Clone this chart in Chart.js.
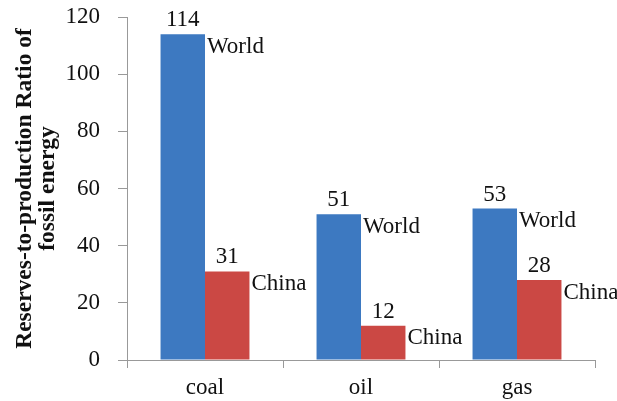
<!DOCTYPE html>
<html>
<head>
<meta charset="utf-8">
<script src="https://cdn.jsdelivr.net/npm/chart.js@4/dist/chart.umd.min.js"></script>
<style>
  html, body { margin: 0; padding: 0; background: #fff; }
  #wrap { width: 617px; height: 401px; }
</style>
</head>
<body>
<div id="wrap"><canvas id="rpChart"></canvas></div>
<script>
const fuels = ["coal", "oil", "gas"];
const worldRatio = [114, 51, 53];
const chinaRatio = [31, 12, 28];
const seriesNames = ["World", "China"];
const yTicks = [0, 20, 40, 60, 80, 100, 120];

const serif = "'Liberation Serif', 'Times New Roman', serif";

// value above each bar, series name to the right of its top
const barLabels = {
	id: "barLabels",
	afterDatasetsDraw(chart) {
		let ctx = chart.ctx;
		ctx.save();
		ctx.fillStyle = "#111";
		ctx.font = "23px " + serif;
		chart.data.datasets.forEach(function(ds, d) {
			let meta = chart.getDatasetMeta(d);
			meta.data.forEach(function(bar, i) {
				ctx.textAlign = "center";
				ctx.textBaseline = "alphabetic";
				ctx.fillText(String(ds.data[i]), bar.x, bar.y - 8);
				ctx.textAlign = "left";
				ctx.textBaseline = "top";
				ctx.fillText(seriesNames[d], bar.x + bar.width / 2 + 2, bar.y + 1);
			});
		});
		ctx.restore();
	}
};

new Chart(document.getElementById("rpChart"), {
	type: "bar",
	data: {
		labels: fuels,
		datasets: [
			{ label: "World", data: worldRatio, backgroundColor: "#3d79c1" },
			{ label: "China", data: chinaRatio, backgroundColor: "#cb4844" }
		]
	},
	options: {
		responsive: true,
		maintainAspectRatio: false,
		animation: false,
		categoryPercentage: 0.57,
		barPercentage: 1.0,
		layout: { padding: { top: 17, right: 22, left: 14, bottom: 0 } },
		plugins: {
			legend: { display: false },
			tooltip: { enabled: false }
		},
		scales: {
			x: {
				grid: { drawOnChartArea: false, color: "#999", tickLength: 8, offset: true },
				border: { color: "#999" },
				ticks: { color: "#111", font: { family: serif, size: 23 }, padding: 6 },
				afterFit: function(scale) { scale.height = 41; }
			},
			y: {
				min: 0,
				max: 120,
				afterBuildTicks: function(scale) { scale.ticks = yTicks.map(v => ({ value: v })); },
				grid: { drawOnChartArea: false, color: "#999", tickLength: 9 },
				border: { color: "#999" },
				ticks: { color: "#111", font: { family: serif, size: 23, lineHeight: 0.5 }, padding: 18 },
				title: {
					display: true,
					text: ["Reserves-to-production Ratio of", "fossil energy"],
					color: "#111",
					font: { family: serif, size: 23.5, weight: "bold", lineHeight: 0.95 },
					padding: 0
				},
				afterFit: function(scale) {
					scale.width = 113;
					scale.paddingTop = 0;
				}
			}
		}
	},
	plugins: [barLabels]
});
</script>
</body>
</html>
